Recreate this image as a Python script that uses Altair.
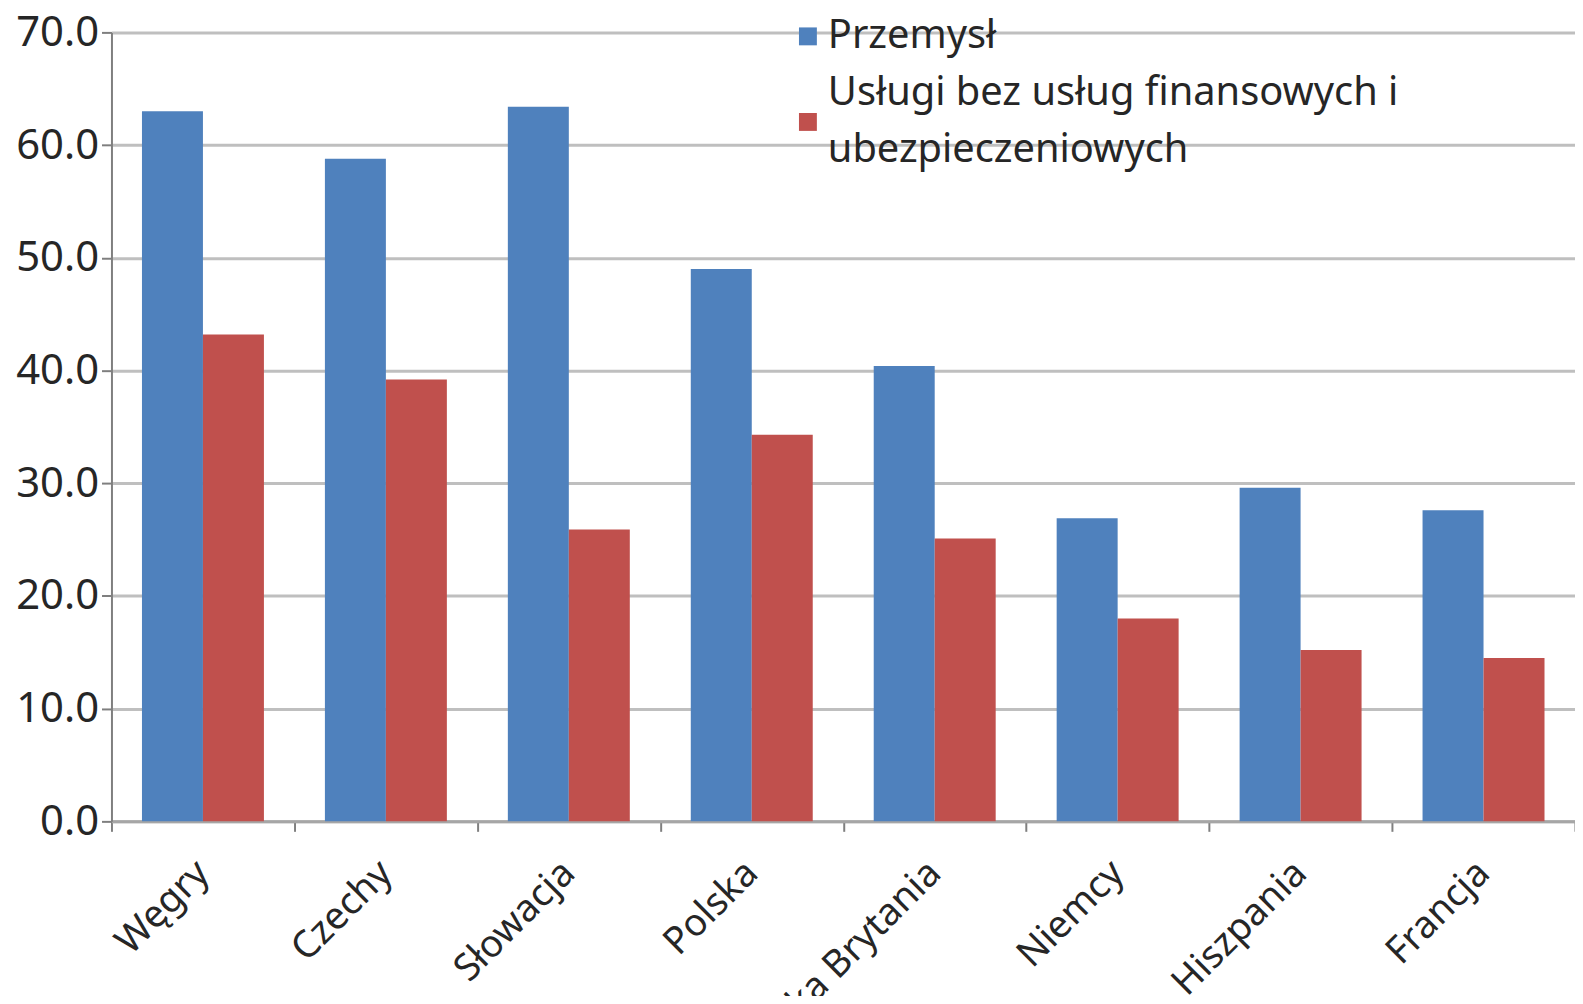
import altair as alt
import pandas as pd

countries = ["Węgry", "Czechy", "Słowacja", "Polska", "Wielka Brytania", "Niemcy", "Hiszpania", "Francja"]
przemysl = [63.0, 58.8, 63.4, 49.0, 40.4, 26.9, 29.6, 27.6]
uslugi = [43.2, 39.2, 25.9, 34.3, 25.1, 18.0, 15.2, 14.5]
series = ["Przemysł", "Usługi bez usług finansowych i ubezpieczeniowych"]
colors = ["#4F81BD", "#C0504D"]
y_ticks = [0, 10, 20, 30, 40, 50, 60, 70]

rows = []
for c, a, b in zip(countries, przemysl, uslugi):
    rows.append({"kraj": c, "seria": series[0], "wartosc": a})
    rows.append({"kraj": c, "seria": series[1], "wartosc": b})
df = pd.DataFrame(rows)

FONT = "Noto Sans"
TXT = "#262626"
W = 1471
H = 793

x_enc = alt.X(
    "kraj:N",
    sort=countries,
    scale=alt.Scale(paddingInner=0, paddingOuter=0),
    axis=alt.Axis(
        title=None,
        labelAngle=-45,
        labelAlign="right",
        labelBaseline="middle",
        labelFontSize=38,
        labelFont=FONT,
        labelColor=TXT,
        labelPadding=36,
        labelLimit=0,
        tickSize=10,
        tickWidth=2,
        tickColor="#7F7F7F",
        tickBand="extent",
        domainColor="#A6A6A6",
        domainWidth=3,
        grid=False,
    ),
)
xoff_enc = alt.XOffset("seria:N", scale=alt.Scale(domain=series, paddingInner=0, paddingOuter=0.5))
y_enc = alt.Y(
    "wartosc:Q",
    scale=alt.Scale(domain=[0, 70], nice=False),
    axis=alt.Axis(
        title=None,
        values=y_ticks,
        format=".1f",
        labelFontSize=42,
        labelFont=FONT,
        labelColor=TXT,
        labelPadding=3,
        tickSize=10,
        tickWidth=2,
        tickColor="#7F7F7F",
        domainColor="#7F7F7F",
        domainWidth=2,
        grid=True,
        gridColor="#BFBFBF",
        gridWidth=3,
    ),
)

legend_common = dict(
    title=None,
    orient="none",
    legendX=680,
    padding=0,
    symbolType="square",
    symbolSize=324,
    symbolStrokeWidth=0,
    labelFontSize=40,
    labelFont=FONT,
    labelColor=TXT,
    labelOffset=0,
    labelLimit=0,
)

base = alt.Chart(df)

blue = base.transform_filter(alt.datum.seria == series[0]).mark_bar().encode(
    x=x_enc,
    xOffset=xoff_enc,
    y=y_enc,
    color=alt.Color(
        "seria:N",
        scale=alt.Scale(domain=[series[0]], range=[colors[0]]),
        legend=alt.Legend(legendY=-16, **legend_common),
    ),
)

red = base.transform_filter(alt.datum.seria == series[1]).mark_bar().encode(
    x=x_enc,
    xOffset=xoff_enc,
    y=y_enc,
    color=alt.Color(
        "seria:N",
        scale=alt.Scale(domain=[series[1]], range=[colors[1]]),
        legend=alt.Legend(
            legendY=70,
            labelBaseline="line-bottom",
            labelExpr="['Usługi bez usług finansowych i', 'ubezpieczeniowych']",
            **legend_common,
        ),
    ),
)

chart = alt.layer(blue, red).resolve_scale(color="independent").resolve_legend(color="independent").properties(
    width=W,
    height=H,
    autosize=alt.AutoSizeParams(type="none"),
    padding={"left": 104, "top": 22, "right": 0, "bottom": 173},
).configure_view(strokeWidth=0).configure(
    background="white",
    style={"guide-label": {"lineHeight": 57}},
)

chart.save("out.html", embed_options={"renderer": "svg", "actions": False})
